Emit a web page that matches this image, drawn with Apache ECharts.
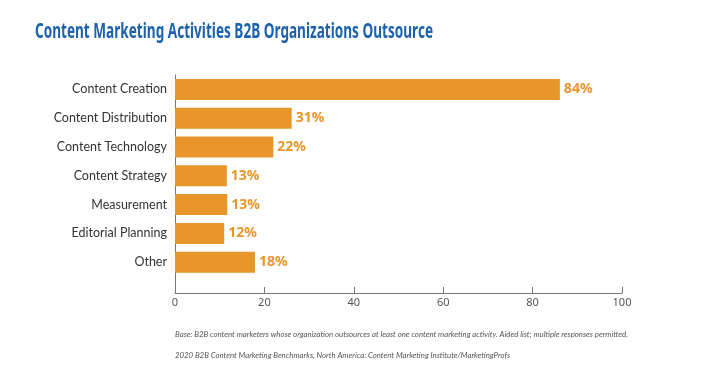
<!DOCTYPE html>
<html><head><meta charset="utf-8">
<script src="https://cdn.jsdelivr.net/npm/echarts@6/dist/echarts.min.js"></script>
<style>html,body{margin:0;padding:0;background:#fff}#c{width:715px;height:390px}</style>
</head><body><div id="c"></div>
<script>
const categories = ['Content Creation','Content Distribution','Content Technology','Content Strategy','Measurement','Editorial Planning','Other'];
// bar lengths as drawn in the picture
const barValues = [86.1, 26.1, 22.0, 11.6, 11.7, 11.0, 17.9];
// printed value labels
const valueLabels = ['84%','31%','22%','13%','13%','12%','18%'];
const xTicks = [0, 20, 40, 60, 80, 100];
const titleText = 'Content Marketing Activities B2B Organizations Outsource';
const note1 = 'Base: B2B content marketers whose organization outsources at least one content marketing activity. Aided list; multiple responses permitted.';
const note2 = '2020 B2B Content Marketing Benchmarks, North America: Content Marketing Institute/MarketingProfs';

const titleFont = 'bold 20.5px "Noto Sans"';
const cv = document.createElement('canvas').getContext('2d');
cv.font = titleFont;
const titleScale = 398 / cv.measureText(titleText).width;

const chart = echarts.init(document.getElementById('c'), null, {renderer:'canvas'});
chart.setOption({
  animation: false,
  backgroundColor: '#fff',
  graphic: [{
    type: 'text', left: 35, top: 22, scaleX: titleScale, originX: 0,
    style: {text: titleText, font: titleFont, fill: '#1d62ad'}
  }],
  title: [
    {text: note1, left: 170, top: 325,
     textStyle: {fontFamily: 'Lato', fontStyle: 'italic', fontWeight: 'normal', fontSize: 7.8, color: '#555'}},
    {text: note2, left: 170, top: 346,
     textStyle: {fontFamily: 'Lato', fontStyle: 'italic', fontWeight: 'normal', fontSize: 7.8, color: '#555'}}
  ],
  grid: [
    {left: 175, right: 93, top: 75, bottom: 113.4, containLabel: false},
    {left: 175, right: 93, top: 276.6, bottom: 97, containLabel: false}
  ],
  xAxis: [
    {gridIndex: 0, type: 'value', min: xTicks[0], max: xTicks[xTicks.length-1], show: false, splitLine: {show: false}},
    {gridIndex: 1, type: 'value', min: xTicks[0], max: xTicks[xTicks.length-1], interval: 20,
     axisLine: {show: true, lineStyle: {color: '#777', width: 1}},
     axisTick: {show: true, inside: true, length: 6, lineStyle: {color: '#777'}},
     splitLine: {show: false},
     axisLabel: {color: '#555', fontFamily: 'Noto Sans', fontSize: 11, margin: 4}}
  ],
  yAxis: [
    {gridIndex: 0, type: 'category', data: categories, inverse: true,
     axisLine: {show: true, lineStyle: {color: '#777', width: 1}},
     axisTick: {show: false},
     axisLabel: {color: '#333', fontFamily: 'Lato', fontSize: 12.5, margin: 8}},
    {gridIndex: 1, type: 'value', min: 0, max: 1,
     axisLine: {show: true, lineStyle: {color: '#777', width: 1}},
     axisTick: {show: false}, axisLabel: {show: false}, splitLine: {show: false}}
  ],
  series: [{
    type: 'bar', xAxisIndex: 0, yAxisIndex: 0, data: barValues, barWidth: 21,
    itemStyle: {color: '#e8952a'},
    label: {show: true, position: 'right', distance: 4,
      formatter: p => valueLabels[p.dataIndex],
      color: '#e8952a', fontFamily: 'Noto Sans', fontWeight: 'bold', fontSize: 14}
  }]
});
</script></body></html>
